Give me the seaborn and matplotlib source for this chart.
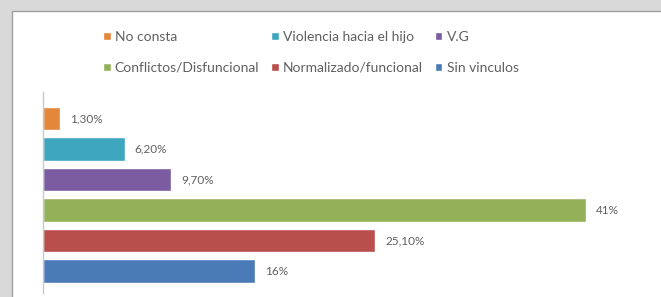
import matplotlib
matplotlib.use("Agg")
import matplotlib.pyplot as plt
import matplotlib.patches as mpatches
import seaborn as sns

# Data
categories = ["No consta", "Violencia hacia el hijo", "V.G",
              "Conflictos/Disfuncional", "Normalizado/funcional", "Sin vinculos"]
values = [1.3, 6.2, 9.7, 41.0, 25.1, 16.0]
value_labels = ["1,30%", "6,20%", "9,70%", "41%", "25,10%", "16%"]
colors = ["#e3873a", "#3fa6c0", "#7b5ca0", "#93b159", "#b94f4c", "#4a7bb7"]

sns.set_style("white")
plt.rcParams["font.family"] = ["Lato", "DejaVu Sans"]
text_color = "#606060"

W, H = 661, 297
fig = plt.figure(figsize=(W / 100, H / 100), dpi=100)
fig.patch.set_facecolor("#d9d9d9")

# white chart panel with thin border
panel = mpatches.Rectangle((12 / W, -0.1), 1.0, (H - 11) / H + 0.1,
                           transform=fig.transFigure, facecolor="white",
                           edgecolor="#a0a0a0", linewidth=1.0, zorder=-10)
fig.patches.append(panel)

# axes placement in pixels
ax_left, ax_top, ax_bottom, ax_right = 43, 92, 293, 640
ax = fig.add_axes([ax_left / W, (H - ax_bottom) / H,
                   (ax_right - ax_left) / W, (ax_bottom - ax_top) / H])
ax.set_facecolor("none")

palette = dict(zip(categories, colors))
sns.barplot(x=values, y=categories, hue=categories, palette=palette,
            orient="h", width=0.77, dodge=False, legend=True, ax=ax,
            saturation=1)

handles, labels = ax.get_legend_handles_labels()
ax.get_legend().remove()

for cont, lab in zip(ax.containers, value_labels):
    ax.bar_label(cont, labels=[lab], padding=7, fontsize=8.5, color=text_color)

ax.set_xlim(0, 45.09)
ax.set_ylim(5.72, -0.87)
ax.set_xticks([])
ax.set_yticks([])
ax.set_xlabel("")
ax.set_ylabel("")
for side in ["top", "right", "bottom"]:
    ax.spines[side].set_visible(False)
ax.spines["left"].set_color("#c8c8c8")
ax.spines["left"].set_linewidth(1.0)

# legend: row-major order in the reference, matplotlib fills column-major
order = [0, 3, 1, 4, 2, 5]
fig.legend([handles[i] for i in order], [labels[i] for i in order],
           loc="upper left", bbox_to_anchor=(103 / W, 1 - 31 / H),
           ncol=3, frameon=False, fontsize=10, labelcolor=text_color,
           handlelength=0.55, handleheight=0.55, handletextpad=0.3,
           columnspacing=0.85, labelspacing=1.35, borderpad=0, borderaxespad=0)

fig.savefig("out.png", dpi=100, facecolor=fig.get_facecolor())
